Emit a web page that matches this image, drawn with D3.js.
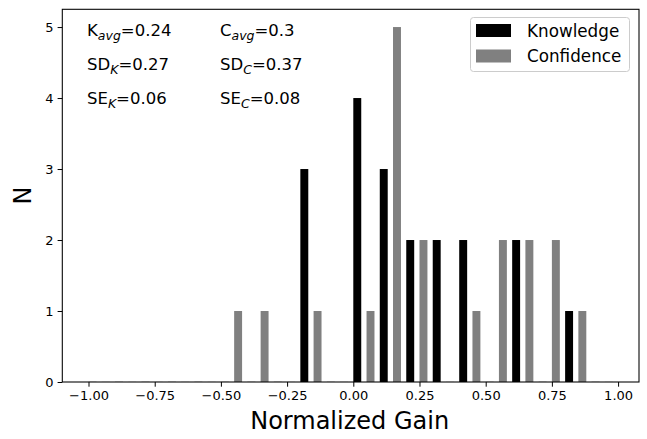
<!DOCTYPE html>
<html><head><meta charset="utf-8">
<script src="https://cdn.jsdelivr.net/npm/d3@7"></script>
<style>body{margin:0;background:#fff}svg{display:block;font-family:"DejaVu Sans",sans-serif}</style>
</head><body><svg id="c" width="647" height="439"></svg>
<script>
const binEdges = [-1.0,-0.9,-0.8,-0.7,-0.6,-0.5,-0.4,-0.3,-0.2,-0.1,0.0,0.1,0.2,0.3,0.4,0.5,0.6,0.7,0.8,0.9];
const knowledge = [0,0,0,0,0,0,0,0,3,0,4,3,2,2,2,0,2,0,1,0];
const confidence = [0,0,0,0,0,1,1,0,1,0,1,5,2,0,1,2,2,2,1,0];
const xTicks = [-1.0,-0.75,-0.5,-0.25,0.0,0.25,0.5,0.75,1.0];
const yTicks = [0,1,2,3,4,5];
const seriesNames = ["Knowledge","Confidence"];
const seriesColors = ["#000000","#808080"];
const statsK = [["K","avg","=0.24"],["SD","K","=0.27"],["SE","K","=0.06"]];
const statsC = [["C","avg","=0.3"],["SD","C","=0.37"],["SE","C","=0.08"]];

const barW = 0.03, cOff = 0.05;
const svg = d3.select("#c");
const L = 62.3, R = 639, T = 9.3, B = 382;
const xmin = binEdges[0], xmax = binEdges[binEdges.length-1] + cOff + barW;
const pad = (xmax - xmin) * 0.05;
const x = d3.scaleLinear().domain([xmin - pad, xmax + pad]).range([L, R]);
const y = d3.scaleLinear().domain([0, 5.25]).range([B, T]);

const g = svg.append("g");
const series = [knowledge, confidence];
series.forEach((vals, si) => {
  g.selectAll(null).data(vals.map((v,i)=>({v, e: binEdges[i] + (si ? cOff : 0)})))
    .enter().append("rect")
    .attr("x", d => x(d.e))
    .attr("width", d => x(d.e + barW) - x(d.e))
    .attr("y", d => d.v > 0 ? y(d.v) : B - 1)
    .attr("height", d => d.v > 0 ? B - y(d.v) : 1)
    .attr("fill", seriesColors[si])
    .attr("opacity", d => d.v > 0 ? 1 : 0.12);
});

// axes
const xa = svg.append("g").attr("transform", `translate(0,${B})`)
  .call(d3.axisBottom(x).tickValues(xTicks).tickFormat(d3.format(".2f")).tickSizeOuter(0).tickSize(4.7).tickPadding(4));
const ya = svg.append("g").attr("transform", `translate(${L},0)`)
  .call(d3.axisLeft(y).tickValues(yTicks).tickFormat(d3.format("d")).tickSizeOuter(0).tickSize(4.7).tickPadding(4));
[xa, ya].forEach(a => {
  a.select(".domain").remove();
  a.selectAll("text").attr("font-size", 13).attr("fill", "#000").attr("font-family", "DejaVu Sans");
  a.selectAll("line").attr("stroke", "#000").attr("stroke-width", 1);
});
xa.selectAll("text").text(d => d3.format(".2f")(d).replace("-", "\u2212"));

svg.append("rect").attr("x", L).attr("y", T).attr("width", R - L).attr("height", B - T)
  .attr("fill", "none").attr("stroke", "#000").attr("stroke-width", 1.07);

svg.append("text").attr("x", (L + R) / 2 - 1).attr("y", 429).attr("text-anchor", "middle")
  .attr("font-size", 24).text("Normalized Gain");
svg.append("text").attr("transform", `translate(31,${(T + B) / 2}) rotate(-90)`).attr("text-anchor", "middle")
  .attr("font-size", 24).text("N");

// stats text
function stat(arr, x0) {
  arr.forEach((s, i) => {
    const t = svg.append("text").attr("x", x0).attr("y", 36 + i * 34).attr("font-size", 16.5);
    t.append("tspan").text(s[0]);
    t.append("tspan").attr("font-size", 12.5).attr("font-style", "italic").attr("dy", 3.5).text(s[1]);
    t.append("tspan").attr("dy", -3.5).text(s[2]);
  });
}
stat(statsK, 87);
stat(statsC, 220);

// legend
const lg = svg.append("g");
lg.append("rect").attr("x", 470.5).attr("y", 17.5).attr("width", 159).attr("height", 54).attr("rx", 3)
  .attr("fill", "#fff").attr("fill-opacity", 0.8).attr("stroke", "#cccccc").attr("stroke-width", 1);
seriesNames.forEach((n, i) => {
  lg.append("rect").attr("x", 476).attr("y", 24 + i * 25.5).attr("width", 35).attr("height", 13).attr("fill", seriesColors[i]);
  lg.append("text").attr("x", 527).attr("y", 36.5 + i * 25.5).attr("font-size", 16.8).text(n);
});
</script></body></html>
